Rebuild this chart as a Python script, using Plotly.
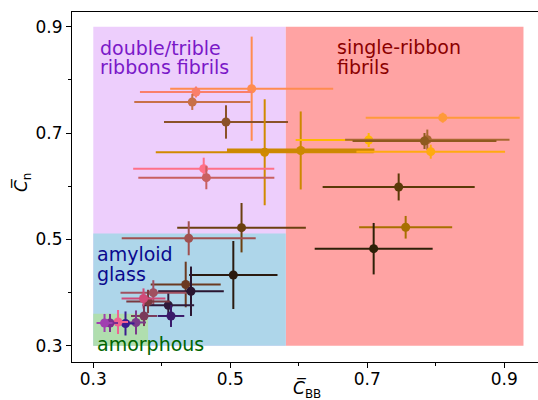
import plotly.graph_objects as go

# ---- data ----
c_bb = [0.5312, 0.4499, 0.4445, 0.4937, 0.5502, 0.6028, 0.4612, 0.4650,
        0.8101, 0.7020, 0.7876, 0.7835, 0.7926, 0.7458, 0.7560, 0.7093,
        0.5164, 0.4393, 0.5044, 0.4349, 0.4426, 0.3876, 0.4095, 0.4134,
        0.3799, 0.3733, 0.3740, 0.3623, 0.3470, 0.3361, 0.3244, 0.3164]
c_n = [0.7835, 0.7773, 0.7585, 0.7209, 0.6639, 0.6673, 0.6330, 0.6161,
       0.7290, 0.6870, 0.6876, 0.6851, 0.6650, 0.5986, 0.5228, 0.4825,
       0.5220, 0.5021, 0.4330, 0.4151, 0.4024, 0.3997, 0.3760, 0.3559,
       0.3832, 0.3888, 0.3559, 0.3437, 0.3418, 0.3446, 0.3427, 0.3427]
c_bb_err = [0.119, 0.0818, 0.0847, 0.0905, 0.159, 0.1076, 0.103, 0.0993,
            0.1124, 0.1066, 0.120, 0.105, 0.1085, 0.111, 0.0679, 0.0861,
            0.0939, 0.0978, 0.0645, 0.0511, 0.0479, 0.0479, 0.0377, 0.0194,
            0.0317, 0.032, 0.019, 0.0146, 0.0131, 0.0146, 0.0117, 0.0117]
c_n_err = [0.098, 0.0103, 0.015, 0.0314, 0.0997, 0.0734, 0.0207, 0.0218,
           0.0094, 0.0132, 0.019, 0.015, 0.0132, 0.0254, 0.0213, 0.0484,
           0.0465, 0.032, 0.064, 0.0429, 0.0465, 0.0235, 0.022, 0.0207,
           0.022, 0.019, 0.019, 0.0226, 0.0226, 0.0226, 0.017, 0.017]

# region boundaries
regions = [
    # (x0, x1, y0, y1, color)
    (0.30, 0.581, 0.30, 0.90, "#EDCEFC"),
    (0.581, 0.928, 0.30, 0.90, "#FFA3A3"),
    (0.30, 0.581, 0.30, 0.511, "#AED6EA"),
    (0.30, 0.38, 0.30, 0.36, "#B0DEAE"),
]
region_labels = [
    ("double/trible", 0.3069, 0.8605, "#7A18C8"),
    ("ribbons fibrils", 0.3069, 0.8242, "#7A18C8"),
    ("single-ribbon", 0.6533, 0.8618, "#8B0000"),
    ("fibrils", 0.6533, 0.8242, "#8B0000"),
    ("amyloid", 0.3029, 0.4716, "#0A0A8E"),
    ("glass", 0.3029, 0.4353, "#0A0A8E"),
    ("amorphous", 0.3020, 0.3023, "#006400"),
]

# ---- style ----
colors = ["#FF8C50", "#FA7F6A", "#C87048", "#8B5228", "#D08A00", "#CC8800",
          "#FF7088", "#C86060", "#FF9A3A", "#FFB800", "#A86830", "#8E5A1E",
          "#FFAA10", "#5A3A08", "#A87000", "#2E2008", "#6B4010", "#A05050",
          "#2A1A10", "#6B3A20", "#2A1530", "#A05060", "#2E1A3A", "#3A1A6A",
          "#7A3A40", "#D04A78", "#7A3A5A", "#7A3A8A", "#3A1A90", "#F06090",
          "#7B2D8E", "#A040B0"]
thick_x = {5}

fig = go.Figure()
for i in range(len(c_bb)):
    fig.add_trace(go.Scatter(
        x=[c_bb[i]], y=[c_n[i]], mode="markers",
        marker=dict(size=9, color=colors[i]),
        error_x=dict(type="data", array=[c_bb_err[i]], color=colors[i],
                     thickness=4 if i in thick_x else 2, width=0),
        error_y=dict(type="data", array=[c_n_err[i]], color=colors[i],
                     thickness=2, width=0),
        showlegend=False, hoverinfo="x+y"))

for x0, x1, y0, y1, col in regions:
    fig.add_shape(type="rect", xref="x", yref="y", x0=x0, x1=x1, y0=y0, y1=y1,
                  fillcolor=col, line=dict(width=0), layer="below")

for txt, x, y, col in region_labels:
    fig.add_annotation(x=x, y=y, xref="x", yref="y", text=txt, showarrow=False,
                       xanchor="left", yanchor="middle", align="left",
                       font=dict(family="DejaVu Sans", size=19, color=col))

font = dict(family="DejaVu Sans", size=17, color="black")
L, T, B = 72, 12, 38
PW, PH = 538 - L, 400 - T - B
fig.update_layout(
    width=538, height=400,
    margin=dict(l=L, r=0, t=T, b=B, autoexpand=False),
    paper_bgcolor="white", plot_bgcolor="white",
    font=font,
    xaxis=dict(range=[0.2689, 0.9492], tick0=0.3, dtick=0.2, showgrid=False,
               zeroline=False, showline=True, linecolor="black", linewidth=1,
               mirror=True, ticks="outside", ticklen=5, tickcolor="black",
               ticklabelstandoff=-3,
               minor=dict(tick0=0.3, dtick=0.1, ticks="outside", ticklen=3,
                          tickcolor="black", showgrid=False),
               tickfont=font, fixedrange=True, automargin=False),
    yaxis=dict(range=[0.2693, 0.9278], tick0=0.3, dtick=0.2, showgrid=False,
               zeroline=False, showline=True, linecolor="black", linewidth=1,
               ticks="outside", ticklen=5, tickcolor="black",
               minor=dict(tick0=0.3, dtick=0.1, ticks="outside", ticklen=3,
                          tickcolor="black", showgrid=False),
               tickfont=font, fixedrange=True, automargin=False),
)
# axis titles as paper-positioned annotations
fig.add_annotation(x=(307 - L) / PW, y=-(389 - (T + PH)) / PH, xref="paper", yref="paper",
                   text="<i>C\u0305</i><sub>BB</sub>", showarrow=False,
                   xanchor="center", yanchor="middle",
                   font=dict(family="DejaVu Sans", size=17, color="black"))
fig.add_annotation(x=-(L - 22) / PW, y=(T + PH - 183) / PH, xref="paper", yref="paper",
                   text="<i>C\u0305</i><sub>n</sub>", showarrow=False, textangle=-90,
                   xanchor="center", yanchor="middle",
                   font=dict(family="DejaVu Sans", size=17, color="black"))

fig.write_html("out.html", config={"displayModeBar": False},
               post_script="document.body.style.margin='0';")
